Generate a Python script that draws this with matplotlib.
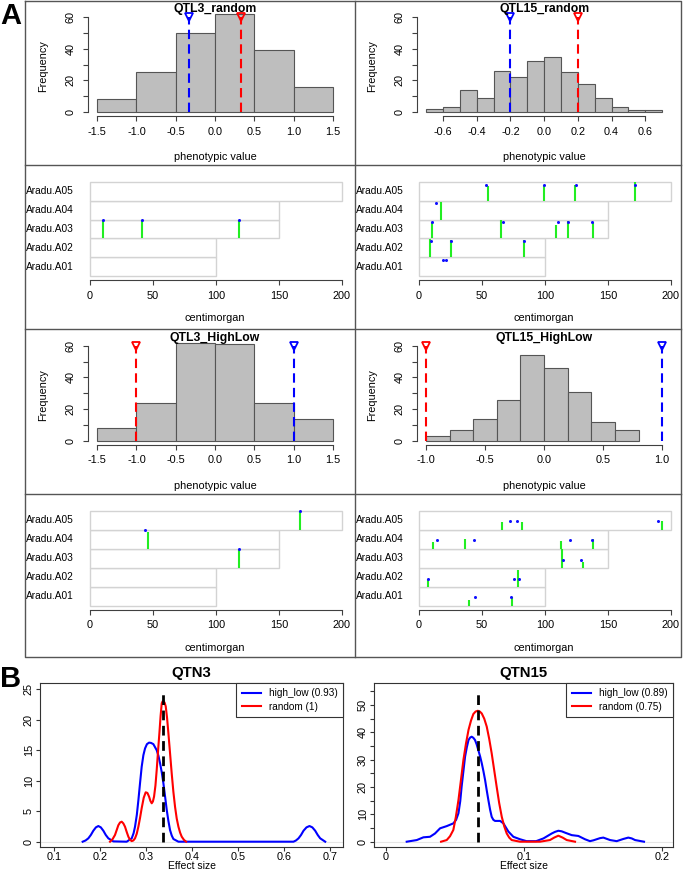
import matplotlib
matplotlib.use('Agg')
import matplotlib.pyplot as plt
from matplotlib.patches import Rectangle
from matplotlib.lines import Line2D
import matplotlib.transforms as mtransforms
import numpy as np

plt.rcParams['font.family'] = ['Liberation Sans', 'DejaVu Sans']

W, H = 685, 872

# ---------------- data ----------------
qtl3_random_breaks = [-1.5, -1.0, -0.5, 0.0, 0.5, 1.0, 1.5]
qtl3_random_counts = [8, 25, 50, 62, 39, 16]
qtl3_random_blue = -0.33
qtl3_random_red = 0.33

qtl15_random_breaks = [-0.7, -0.6, -0.5, -0.4, -0.3, -0.2, -0.1, 0.0, 0.1, 0.2, 0.3, 0.4, 0.5, 0.6, 0.7]
qtl15_random_counts = [2, 3, 14, 9, 26, 22, 32, 35, 25, 18, 9, 3, 1, 1]
qtl15_random_blue = -0.2
qtl15_random_red = 0.2

qtl3_highlow_breaks = [-1.5, -1.0, -0.5, 0.0, 0.5, 1.0, 1.5]
qtl3_highlow_counts = [8, 24, 62, 61, 24, 14]
qtl3_highlow_blue = 1.0
qtl3_highlow_red = -1.0

qtl15_highlow_breaks = [-1.0, -0.8, -0.6, -0.4, -0.2, 0.0, 0.2, 0.4, 0.6, 0.8]
qtl15_highlow_counts = [3, 7, 14, 26, 54, 46, 31, 12, 7]
qtl15_highlow_blue = 1.0
qtl15_highlow_red = -1.0

chrom_names = ['Aradu.A01', 'Aradu.A02', 'Aradu.A03', 'Aradu.A04', 'Aradu.A05']
chrom_lengths = [100, 100, 150, 150, 200]
cm_ticks = [0, 50, 100, 150, 200]

# green segments: chromosome index (0=A01), position (cM), top fraction of row
qtl3_random_green_chr = [2, 2, 2]
qtl3_random_green_pos = [10, 41, 118]
qtl3_random_green_top = [0.96, 0.96, 0.96]
qtl3_random_dot_chr = [2, 2, 2]
qtl3_random_dot_pos = [10, 41, 118]
qtl3_random_dot_y = [0.96, 0.96, 0.96]

qtl15_random_green_chr = [4, 4, 4, 4, 3, 2, 2, 2, 2, 2, 1, 1, 1]
qtl15_random_green_pos = [54.8, 98.9, 123.8, 171.4, 17.2, 10.3, 65.3, 109, 118.5, 137.8, 8.7, 25.4, 83.3]
qtl15_random_green_top = [0.76, 0.85, 0.82, 1.0, 0.95, 0.88, 1.0, 0.7, 0.9, 0.88, 0.96, 0.9, 0.9]
qtl15_random_dot_chr = [4, 4, 4, 4, 3, 2, 2, 2, 2, 2, 1, 1, 1, 0, 0]
qtl15_random_dot_pos = [53.2, 98.9, 124.6, 171.4, 13.5, 10.3, 66.4, 110, 118.5, 137.6, 9.5, 25.4, 83, 19.3, 21.4]
qtl15_random_dot_y = [0.85, 0.85, 0.85, 0.85, 0.86, 0.86, 0.86, 0.86, 0.86, 0.86, 0.86, 0.86, 0.86, 0.84, 0.84]

qtl3_highlow_green_chr = [4, 3, 2]
qtl3_highlow_green_pos = [167, 46.2, 118.1]
qtl3_highlow_green_top = [1.0, 0.88, 1.0]
qtl3_highlow_dot_chr = [4, 3, 2]
qtl3_highlow_dot_pos = [167, 43.3, 118.1]
qtl3_highlow_dot_y = [1.0, 1.0, 1.0]

qtl15_highlow_green_chr = [4, 4, 4, 3, 3, 3, 3, 2, 2, 1, 1, 0, 0]
qtl15_highlow_green_pos = [65.9, 81.7, 192.9, 10.8, 36.8, 113, 138.1, 113.5, 129.9, 6.9, 78.3, 39.7, 73.8]
qtl15_highlow_green_top = [0.41, 0.41, 0.45, 0.35, 0.53, 0.40, 0.53, 1.0, 0.30, 0.43, 0.86, 0.30, 0.47]
qtl15_highlow_dot_chr = [4, 4, 4, 3, 3, 3, 3, 2, 2, 1, 1, 1, 0, 0]
qtl15_highlow_dot_pos = [72.2, 77.5, 189.4, 14, 43.7, 120.1, 137.6, 114.3, 128.8, 6.9, 75.7, 79.1, 44.7, 73]
qtl15_highlow_dot_y = [0.45, 0.45, 0.45, 0.44, 0.44, 0.44, 0.44, 0.42, 0.42, 0.43, 0.43, 0.43, 0.44, 0.44]

# density curves
qtn3_highlow_x = [0.1617, 0.168, 0.174, 0.1795, 0.1849, 0.1905, 0.1958, 0.2012, 0.2067, 0.212,
                  0.2176, 0.2284, 0.2575, 0.2684, 0.2725, 0.2756, 0.2795,
                  0.2829, 0.2865, 0.2901, 0.2938, 0.2974, 0.3015, 0.3061, 0.3105, 0.3155, 0.3228,
                  0.3265, 0.33, 0.3337, 0.3373, 0.341, 0.3446, 0.3482, 0.3518, 0.3555,
                  0.3591, 0.37, 0.6203, 0.6257, 0.6312, 0.6367, 0.6421, 0.6486, 0.6551, 0.6613,
                  0.6675, 0.673, 0.6784, 0.6893]
qtn3_highlow_y = [0, 0.2, 0.55, 1.1, 1.8, 2.35, 2.57, 2.35, 1.8, 1.1,
                  0.55, 0.05, 0, 0.55, 1.4, 2.46, 4.4,
                  6.8, 9.6, 12.3, 14.2, 15.3, 16.0, 16.25, 16.2, 16.0, 15.0,
                  14.1, 12.9, 11.4, 9.6, 7.4, 5.2, 3.4, 1.9, 1.0,
                  0.44, 0, 0, 0.2, 0.55, 1.1, 1.8, 2.35, 2.57, 2.35,
                  1.8, 1.1, 0.55, 0]
qtn3_random_x = [0.2212, 0.2266, 0.232, 0.2357, 0.2393, 0.243, 0.2466, 0.2502, 0.2538, 0.2575,
                 0.2611, 0.2648, 0.2684, 0.272, 0.2756, 0.2793, 0.2829, 0.2865, 0.2901,
                 0.2945, 0.2988, 0.3025, 0.3061, 0.309, 0.3119, 0.3145, 0.317, 0.32, 0.3228,
                 0.3257, 0.3286, 0.3312, 0.3337, 0.3355, 0.3373, 0.34, 0.3424, 0.3453, 0.3482,
                 0.3518, 0.3554, 0.359, 0.3627, 0.3663, 0.37, 0.3736, 0.3772, 0.382, 0.3867]
qtn3_random_y = [0, 0.4, 1.1, 1.9, 2.7, 3.15, 3.28, 3.0, 2.46, 1.6,
                 0.82, 0.3, 0.1, 0.2, 0.55, 1.3, 2.46, 3.9, 5.5,
                 7.2, 8.1, 8.0, 7.4, 6.7, 6.3, 6.6, 7.4, 9.2, 11.8,
                 14.9, 17.8, 20.6, 22.7, 23.0, 23.1, 22.8, 22.2, 20.3, 17.8,
                 14.5, 11.2, 8.2, 5.7, 3.8, 2.46, 1.5, 0.82, 0.3, 0]
qtn3_true = 0.336
qtn3_labels = ['high_low (0.93)', 'random (1)']

qtn15_highlow_x = [0.0152, 0.0225, 0.0273, 0.0321, 0.0357, 0.0394, 0.0442, 0.049, 0.051, 0.0527,
                   0.054, 0.055, 0.0563, 0.0575, 0.0588, 0.060, 0.0612, 0.0623, 0.0635, 0.0647,
                   0.0659, 0.0671, 0.0684, 0.0696, 0.0708, 0.072, 0.0732, 0.0744, 0.0756, 0.0768,
                   0.078, 0.0792, 0.0829, 0.0853, 0.0871, 0.0889, 0.0925, 0.0973, 0.102, 0.109,
                   0.1143, 0.1173, 0.1203, 0.1227, 0.1251, 0.1275, 0.13, 0.1348, 0.1396, 0.1444,
                   0.148, 0.1505, 0.1529, 0.1553, 0.1577, 0.1626, 0.1674, 0.1722, 0.1758, 0.1783,
                   0.1807, 0.1872]
qtn15_highlow_y = [0, 0.6, 1.6, 1.8, 3.0, 4.9, 5.7, 6.7, 8.0, 10.4,
                   14.8, 20.1, 25.8, 31.1, 34.6, 37.2, 38.1, 38.4, 38.0, 37.2,
                   35.6, 33.5, 31.2, 28.7, 25.8, 22.6, 18.8, 15.2, 11.8, 9.1,
                   8.0, 7.6, 7.6, 6.7, 5.2, 3.7, 1.8, 0.9, 0.2, 0.2,
                   1.2, 2.1, 3.0, 3.6, 4.0, 3.8, 3.3, 2.4, 2.1, 0.9,
                   0.2, 0.5, 0.9, 1.3, 1.5, 0.6, 0.2, 1.0, 1.5, 1.2,
                   0.6, 0]
qtn15_random_x = [0.0401, 0.0442, 0.0466, 0.049, 0.0508, 0.0527, 0.0545, 0.0563, 0.0582, 0.060,
                  0.0618, 0.0635, 0.0651, 0.0667, 0.0682, 0.0696, 0.0714, 0.0732, 0.075, 0.0768,
                  0.0786, 0.0804, 0.0822, 0.0841, 0.0859, 0.0877, 0.0895, 0.0913, 0.0973, 0.1118,
                  0.119, 0.1221, 0.1251, 0.1282, 0.1312, 0.1372]
qtn15_random_y = [0, 0.6, 2.0, 4.3, 9.0, 15.2, 22.5, 29.9, 36.0, 40.9,
                  44.3, 46.7, 47.6, 47.9, 47.6, 46.9, 45.0, 42.1, 37.6, 32.3,
                  26.2, 20.1, 14.2, 9.1, 5.6, 3.0, 1.5, 0.6, 0, 0,
                  0.6, 1.5, 2.2, 1.5, 0.6, 0]
qtn15_true = 0.0667
qtn15_labels = ['high_low (0.89)', 'random (0.75)']

# ---------------- figure ----------------
fig = plt.figure(figsize=(W / 100, H / 100), dpi=100)


def add_ax(x0, y0, x1, y1):
    return fig.add_axes([x0 / W, 1 - y1 / H, (x1 - x0) / W, (y1 - y0) / H])


def ftext(x, y, s, **kw):
    fig.text(x / W, 1 - y / H, s, **kw)


AX_COL = '#404040'
TICK_FS = 7.8


def hist_panel(box, breaks, counts, lo, hi, xticks, xticklabels, title, blue_x, red_x, freq_x):
    x0, y0, x1, y1 = box
    ax = add_ax(x0, y0, x1, y1)
    ax.bar(breaks[:-1], counts, width=np.diff(breaks), align='edge',
           color='#BEBEBE', edgecolor='#555555', linewidth=0.8)
    span = hi - lo
    ax.set_xlim(lo - 0.04 * span, hi + 0.04 * span)
    ax.set_ylim(-2.48, 64.48)
    for s in ['top', 'right']:
        ax.spines[s].set_visible(False)
    for s in ['left', 'bottom']:
        ax.spines[s].set_color(AX_COL)
        ax.spines[s].set_linewidth(0.8)
    ax.spines['left'].set_bounds(0, 60)
    ax.spines['bottom'].set_bounds(xticks[0], xticks[-1])
    ax.set_xticks(xticks)
    ax.set_xticklabels(xticklabels, fontsize=TICK_FS)
    yt = [0, 10, 20, 30, 40, 50, 60]
    ax.set_yticks(yt)
    ax.set_yticklabels(['0', '', '20', '', '40', '', '60'], fontsize=TICK_FS,
                       rotation=90, va='center')
    ax.tick_params(axis='x', length=3.6, width=0.8, color=AX_COL, pad=4)
    ax.tick_params(axis='y', length=3.6, width=0.8, color=AX_COL, pad=5)
    for xv, col in [(blue_x, '#0000FF'), (red_x, '#FF0000')]:
        ax.plot([xv, xv], [0, 60], color=col, lw=1.5, ls=(0, (4.5, 2.5)), clip_on=False)
        ax.plot([xv], [60], marker='v', ms=6, mfc='none', mec=col, mew=1.3, clip_on=False)
    ftext((x0 + x1) / 2, y0 + 2, title, ha='center', va='baseline', fontsize=8.8, weight='bold')
    ftext((x0 + x1) / 2, y1 + 41, 'phenotypic value', ha='center', va='center', fontsize=TICK_FS)
    ftext(freq_x, (y0 + y1) / 2 + 3, 'Frequency', ha='center', va='center', fontsize=TICK_FS,
          rotation=90)
    return ax


def chrom_panel(box, label_x, gchr, gpos, gtop, dchr, dpos, dy):
    x0, y0, x1, y1 = box
    ax = add_ax(x0, y0, x1, y1)
    ax.set_xlim(-8, 208)
    ax.set_ylim(-0.2, 5.2)
    for i, L in enumerate(chrom_lengths):
        ax.add_patch(Rectangle((0, i), L, 1, facecolor='white', edgecolor='#D3D3D3', lw=1.0))
    for c, p, t in zip(gchr, gpos, gtop):
        ax.plot([p, p], [c, c + t], color='#22EE22', lw=1.5, solid_capstyle='butt')
    ax.plot(dpos, [c + y for c, y in zip(dchr, dy)], ls='none', marker='o', ms=2.2,
            color='#1010FF', mew=0)
    for s in ['top', 'right', 'left']:
        ax.spines[s].set_visible(False)
    ax.spines['bottom'].set_bounds(0, 200)
    ax.spines['bottom'].set_color(AX_COL)
    ax.spines['bottom'].set_linewidth(0.8)
    ax.set_yticks([])
    ax.set_xticks(cm_ticks)
    ax.set_xticklabels([str(t) for t in cm_ticks], fontsize=TICK_FS)
    ax.tick_params(axis='x', length=3.6, width=0.8, color=AX_COL, pad=4)
    tr = mtransforms.blended_transform_factory(fig.transFigure, ax.transData)
    for i, n in enumerate(chrom_names):
        ax.text(label_x / W, i + 0.5, n, transform=tr, ha='left', va='center', fontsize=7.3)
    ftext((x0 + x1) / 2 - 1, y1 + 38, 'centimorgan', ha='center', va='center', fontsize=TICK_FS)
    return ax


# Panel A histograms
hist_panel((87.6, 10, 342.6, 116), qtl3_random_breaks, qtl3_random_counts, -1.5, 1.5,
           [-1.5, -1.0, -0.5, 0.0, 0.5, 1.0, 1.5], ['-1.5', '-1.0', '-0.5', '0.0', '0.5', '1.0', '1.5'],
           'QTL3_random', qtl3_random_blue, qtl3_random_red, 43)
hist_panel((416.6, 10, 671.6, 116), qtl15_random_breaks, qtl15_random_counts, -0.7, 0.7,
           [-0.6, -0.4, -0.2, 0.0, 0.2, 0.4, 0.6], ['-0.6', '-0.4', '-0.2', '0.0', '0.2', '0.4', '0.6'],
           'QTL15_random', qtl15_random_blue, qtl15_random_red, 372)
hist_panel((87.6, 338.6, 342.6, 444.6), qtl3_highlow_breaks, qtl3_highlow_counts, -1.5, 1.5,
           [-1.5, -1.0, -0.5, 0.0, 0.5, 1.0, 1.5], ['-1.5', '-1.0', '-0.5', '0.0', '0.5', '1.0', '1.5'],
           'QTL3_HighLow', qtl3_highlow_blue, qtl3_highlow_red, 43)
hist_panel((416.6, 338.6, 671.6, 444.6), qtl15_highlow_breaks, qtl15_highlow_counts, -1.0, 1.0,
           [-1.0, -0.5, 0.0, 0.5, 1.0], ['-1.0', '-0.5', '0.0', '0.5', '1.0'],
           'QTL15_HighLow', qtl15_highlow_blue, qtl15_highlow_red, 372)

# Panel A chromosome maps
chrom_panel((80, 177.9, 352, 280.1), 26, qtl3_random_green_chr, qtl3_random_green_pos,
            qtl3_random_green_top, qtl3_random_dot_chr, qtl3_random_dot_pos, qtl3_random_dot_y)
chrom_panel((409, 177.9, 681, 280.1), 356, qtl15_random_green_chr, qtl15_random_green_pos,
            qtl15_random_green_top, qtl15_random_dot_chr, qtl15_random_dot_pos, qtl15_random_dot_y)
chrom_panel((80, 506.9, 352, 609.5), 26, qtl3_highlow_green_chr, qtl3_highlow_green_pos,
            qtl3_highlow_green_top, qtl3_highlow_dot_chr, qtl3_highlow_dot_pos, qtl3_highlow_dot_y)
chrom_panel((409, 506.9, 681, 609.5), 356, qtl15_highlow_green_chr, qtl15_highlow_green_pos,
            qtl15_highlow_green_top, qtl15_highlow_dot_chr, qtl15_highlow_dot_pos, qtl15_highlow_dot_y)

# Panel A frame
FR = '#555555'


def fline(xs, ys):
    fig.add_artist(Line2D([x / W for x in xs], [1 - y / H for y in ys], color=FR, lw=1.0))


fline([25, 681, 681, 25, 25], [1, 1, 657, 657, 1])
fline([355, 355], [1, 657])
for yy in [165, 329, 494]:
    fline([25, 681], [yy, yy])


# Panel B density plots
def density_panel(box, xlim, ylim, curves, true_x, true_top, labels, xticks, xticklabels,
                  yticks, yticklabels, title):
    x0, y0, x1, y1 = box
    ax = add_ax(x0, y0, x1, y1)
    ax.axhline(0, color='#E6E6E6', lw=0.8, zorder=0)
    cols = ['#0000FF', '#FF0000']
    handles = []
    for (cx, cy), col, lab in zip(curves, cols, labels):
        h, = ax.plot(cx, cy, color=col, lw=1.5, label=lab, solid_joinstyle='round')
        handles.append(h)
    ax.plot([true_x, true_x], [0, true_top], color='black', lw=2, ls=(0, (3.5, 2)))
    ax.set_xlim(*xlim)
    ax.set_ylim(*ylim)
    for s in ax.spines.values():
        s.set_color('#333333')
        s.set_linewidth(0.8)
    ax.set_xticks(xticks)
    ax.set_xticklabels(xticklabels, fontsize=TICK_FS)
    ax.set_yticks(yticks)
    ax.set_yticklabels(yticklabels, fontsize=TICK_FS, rotation=90, va='center')
    ax.tick_params(axis='y', length=3, width=0.8, color='#333333', pad=1.5)
    ax.tick_params(axis='x', length=3, width=0.8, color='#333333', pad=0.3)
    leg = ax.legend(handles=handles, loc='upper right', borderaxespad=0, fancybox=False,
                    edgecolor='#333333', framealpha=1, fontsize=7.2, handlelength=1.9,
                    handletextpad=0.8, borderpad=0.55, labelspacing=0.3)
    leg.get_frame().set_linewidth(0.8)
    ftext((x0 + x1) / 2, 673, title, ha='center', va='center', fontsize=10.8, weight='bold')
    ftext((x0 + x1) / 2, 866, 'Effect size', ha='center', va='center', fontsize=7.5)
    return ax


density_panel((40, 683, 343, 847), (0.0689, 0.728), (-0.87, 26.03),
              [(qtn3_highlow_x, qtn3_highlow_y), (qtn3_random_x, qtn3_random_y)],
              qtn3_true, 24.3, qtn3_labels,
              [0.1, 0.2, 0.3, 0.4, 0.5, 0.6, 0.7], ['0.1', '0.2', '0.3', '0.4', '0.5', '0.6', '0.7'],
              [0, 5, 10, 15, 20, 25], ['0', '5', '10', '15', '20', '25'], 'QTN3')
density_panel((374, 683, 673, 847), (-0.0085, 0.2082), (-1.94, 58.05),
              [(qtn15_highlow_x, qtn15_highlow_y), (qtn15_random_x, qtn15_random_y)],
              qtn15_true, 54.3, qtn15_labels,
              [0, 0.1, 0.2], ['0', '0.1', '0.2'],
              [0, 5, 10, 15, 20, 25, 30, 35, 40, 45, 50, 55],
              ['0', '', '10', '', '20', '', '30', '', '40', '', '50', ''], 'QTN15')

# Panel letters
ftext(11, 16, 'A', ha='center', va='center', fontsize=21, weight='heavy')
ftext(11, 679, 'B', ha='center', va='center', fontsize=21, weight='heavy')

fig.savefig('out.png', dpi=100)
